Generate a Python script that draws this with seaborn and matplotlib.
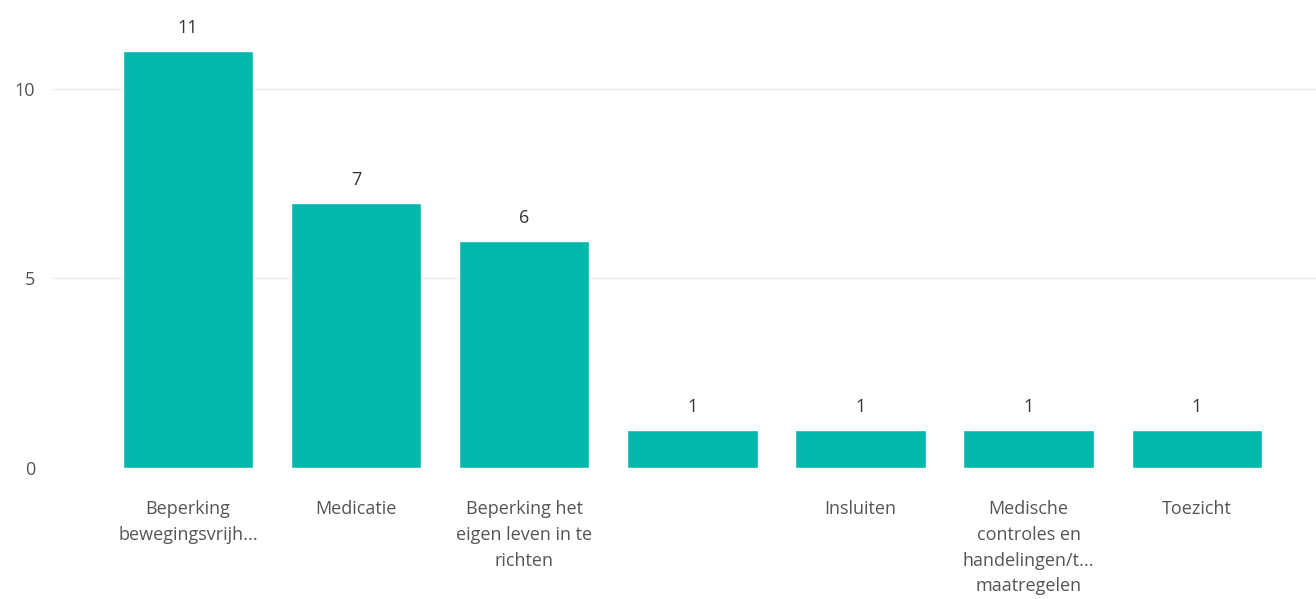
import matplotlib
matplotlib.use("Agg")
import matplotlib.pyplot as plt
import seaborn as sns
import pandas as pd

categories = ["Beperking\nbewegingsvrijh...", "Medicatie", "Beperking het\neigen leven in te\nrichten", "(leeg)",
              "Insluiten", "Medische\ncontroles en\nhandelingen/t...\nmaatregelen", "Toezicht"]
tick_labels = ["Beperking\nbewegingsvrijh...", "Medicatie", "Beperking het\neigen leven in te\nrichten", "",
               "Insluiten", "Medische\ncontroles en\nhandelingen/t...\nmaatregelen", "Toezicht"]
values = [11, 7, 6, 1, 1, 1, 1]
yticks = [0, 5, 10]

sns.set_theme(style="white")
plt.rcParams['font.family'] = ['Open Sans', 'DejaVu Sans']

df = pd.DataFrame({"cat": categories, "val": values})

fig = plt.figure(figsize=(13.16, 5.99), dpi=100)
ax = fig.add_axes([52/1316, 131/599, 1 - 52/1316, (468-13)/599])

sns.barplot(data=df, x="cat", y="val", order=categories, color="#01B8AA",
            saturation=1, width=0.775, ax=ax)

ax.set_xlim(-0.81, 6.71)
ax.set_ylim(0, 12)
ax.set_yticks(yticks)
ax.set_yticklabels([str(t) for t in yticks])
ax.set_xticks(range(len(categories)))
ax.set_xticklabels(tick_labels, linespacing=1.56)
ax.set_xlabel("")
ax.set_ylabel("")
ax.yaxis.grid(True, color="#ECECEC", linewidth=1)
ax.set_axisbelow(True)
for s in ax.spines.values():
    s.set_visible(False)
ax.tick_params(axis="x", length=0, pad=23, labelsize=13, labelcolor="#555555")
ax.tick_params(axis="y", length=0, pad=12, labelsize=13, labelcolor="#555555")
for lbl in ax.get_xticklabels():
    lbl.set_verticalalignment("top")

for c in ax.containers:
    ax.bar_label(c, labels=[str(v) for v in values], padding=10, fontsize=13, color="#333333")

fig.savefig("out.png", dpi=100)
